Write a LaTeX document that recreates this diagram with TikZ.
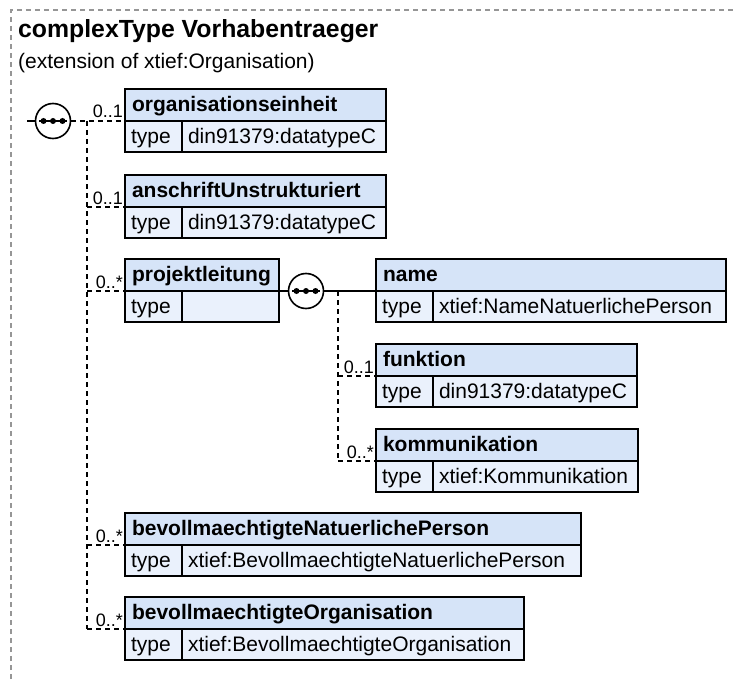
\documentclass[tikz,border=0pt]{standalone}
\usepackage{fontspec}
\setmainfont{Liberation Sans}
\usetikzlibrary{calc,backgrounds}
\definecolor{hdrc}{RGB}{214,228,248}
\definecolor{rowc}{RGB}{234,241,252}
\definecolor{bordc}{RGB}{150,150,150}
\tikzset{
  boxbase/.style={draw, line width=1.4pt, outer sep=0pt, inner ysep=0pt, anchor=north west, align=left, text height=17pt, text depth=4pt},
  hdr/.style={boxbase, fill=hdrc, inner xsep=7pt, minimum height=32pt, font=\bfseries\fontsize{21}{24}\selectfont},
  typec/.style={boxbase, fill=rowc, inner xsep=6pt, minimum height=31pt, text width=45pt, font=\fontsize{21}{24}\selectfont},
  valc/.style={boxbase, fill=rowc, inner xsep=6pt, minimum height=31pt, font=\fontsize{21}{24}\selectfont},
  conn/.style={line width=1.2pt},
  opt/.style={conn, dash pattern=on 5pt off 4pt},
  mult/.style={font=\fontsize{18}{20}\selectfont, inner sep=0pt, anchor=base east},
  seqc/.style={circle, draw, line width=1.6pt, fill=white, minimum size=35pt, inner sep=0pt},
  shadowc/.style={fill=black!35},
}
\newcommand\elembox[6]{%
  \pgfmathsetmacro\hwid{#4-14}%
  \pgfmathsetmacro\vwid{#4-57-12}%
  \node[hdr, text width=\hwid pt] (#1-h) at (#2,#3) {#5};
  \node[typec] (#1-t) at (#1-h.south west) {type};
  \node[valc, text width=\vwid pt] (#1-v) at (#1-t.north east) {#6};
  \begin{pgfonlayer}{background}
    \fill[shadowc] ($(#1-h.north west)+(1.8,1.8)$) rectangle ($(#1-v.south east)+(1.8,1.8)$);
  \end{pgfonlayer}
}
\newcommand\seqsym[1]{%
  \draw[line width=1.4pt] ([xshift=-14pt]#1.center) -- ([xshift=14pt]#1.center);
  \foreach \dd in {-9.5,0,9.5} \fill ([xshift=\dd pt]#1.center) circle (3pt);
}
\begin{document}
\begin{tikzpicture}[x=1pt,y=-1pt]
\useasboundingbox (0,0) rectangle (735,679);
\fill[white] (0,0) rectangle (735,679);
% outer dashed frame
\coordinate (fbl) at (11,679);
\coordinate (ftl) at (11,10);
\coordinate (ftr) at (735,10);
\draw[bordc, line width=1.1pt, dash pattern=on 5pt off 4pt] (fbl) -- (ftl) -- (ftr);
% title
\node[anchor=base west, inner sep=0pt, font=\bfseries\fontsize{24.8}{28}\selectfont] (title) at (18,38) {complexType Vorhabentraeger};
\node[anchor=base west, inner sep=0pt, font=\fontsize{21}{24}\selectfont] (subtitle) at (18,69) {(extension of xtief:Organisation)};
% element boxes
\elembox{org}{125}{89}{261}{organisationseinheit}{din91379:datatypeC}
\elembox{ans}{125}{175}{261}{anschriftUnstrukturiert}{din91379:datatypeC}
\elembox{pro}{125}{259}{154}{projektleitung}{}
\elembox{nam}{376}{259}{350}{name}{xtief:NameNatuerlichePerson}
\elembox{fun}{376}{344}{261}{funktion}{din91379:datatypeC}
\elembox{kom}{376}{429}{262}{kommunikation}{xtief:Kommunikation}
\elembox{bnp}{125}{513}{456}{bevollmaechtigteNatuerlichePerson}{xtief:BevollmaechtigteNatuerlichePerson}
\elembox{bor}{125}{597}{399}{bevollmaechtigteOrganisation}{xtief:BevollmaechtigteOrganisation}
% main sequence
\node[seqc] (s1) at (53,121) {};
\seqsym{s1}
\coordinate (in1) at (27,121);
\draw[conn] (in1) -- (s1.west);
\coordinate (tr1a) at (87,121);
\coordinate (tr1b) at (87,629);
\draw[opt] (s1.east) -- (org-h.south west);
\draw[opt] (tr1a) -- (tr1b);
\draw[opt] (tr1a |- ans-h.south west) -- (ans-h.south west);
\draw[opt] (tr1a |- pro-h.south west) -- (pro-h.south west);
\draw[opt] (tr1a |- bnp-h.south west) -- (bnp-h.south west);
\draw[opt] (tr1a |- bor-h.south west) -- (bor-h.south west);
\node[mult] (m1) at ($(org-h.south west)+(-2,-3)$) {0..1};
\node[mult] (m2) at ($(ans-h.south west)+(-2,-3)$) {0..1};
\node[mult] (m3) at ($(pro-h.south west)+(-2,-3)$) {0..*};
\node[mult] (m4) at ($(bnp-h.south west)+(-2,-3)$) {0..*};
\node[mult] (m5) at ($(bor-h.south west)+(-2,-3)$) {0..*};
% inner sequence of projektleitung
\node[seqc] (s2) at (306,291) {};
\seqsym{s2}
\draw[conn] (pro-h.south east) -- (s2.west);
\draw[conn] (s2.east) -- (nam-h.south west);
\coordinate (tr2a) at (338,291);
\coordinate (tr2b) at (338,461);
\draw[opt] (tr2a) -- (tr2b);
\draw[opt] (tr2a |- fun-h.south west) -- (fun-h.south west);
\draw[opt] (tr2a |- kom-h.south west) -- (kom-h.south west);
\node[mult] (m6) at ($(fun-h.south west)+(-2,-3)$) {0..1};
\node[mult] (m7) at ($(kom-h.south west)+(-2,-3)$) {0..*};
\end{tikzpicture}
\end{document}
